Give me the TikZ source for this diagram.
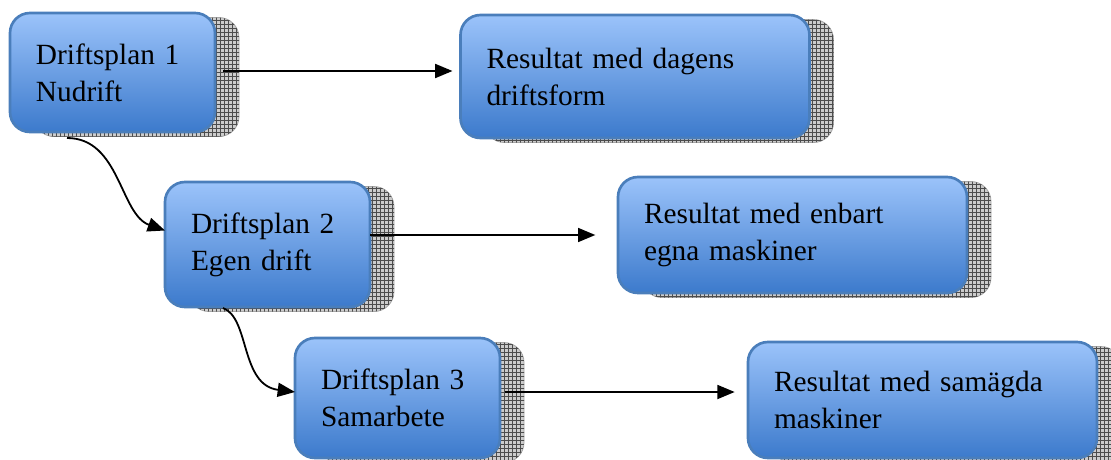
\documentclass[tikz,border=0pt]{standalone}
\usepackage{fontspec}
\setmainfont{Liberation Serif}
\usetikzlibrary{arrows.meta,calc,shadows,patterns}
\definecolor{boxtop}{RGB}{155,195,250}
\definecolor{boxbot}{RGB}{60,122,204}
\definecolor{boxline}{RGB}{74,126,187}
\tikzset{
  box/.style={rounded corners=15pt, draw=boxline, line width=2pt,
    top color=boxtop, bottom color=boxbot, align=left, text=black,
    font=\fontsize{22}{27.75}\selectfont, inner xsep=19.5pt, inner ysep=0pt,
    outer sep=0pt,
    general shadow={shadow xshift=18pt, shadow yshift=-3.4pt, fill=gray!40, draw=gray!70, line width=0.6pt},
    general shadow={shadow xshift=18pt, shadow yshift=-3.4pt, pattern=grid, pattern color=black!70}},
  planbox/.style={box, text width=114.75pt},
  resbox/.style={box, text width=222.75pt},
  arr/.style={line width=1.35pt, -{Triangle[length=13pt,width=10.5pt]}},
}
\begin{document}
\begin{tikzpicture}[x=0.75pt,y=-0.75pt]
\useasboundingbox (0,0) rectangle (1111,460);
\node[planbox, minimum height=89.25pt] (d1) at (112.5,72.5) {Driftsplan 1\\Nudrift};
\node[resbox, minimum height=92.25pt] (r1) at (635,76.5) {Resultat med dagens\\driftsform};
\node[planbox, minimum height=93.75pt] (d2) at (267.5,244.5) {Driftsplan 2\\Egen drift};
\node[resbox, minimum height=87pt] (r2) at (792.5,235) {Resultat med enbart\\egna maskiner};
\node[planbox, minimum height=90pt] (d3) at (397.5,398) {Driftsplan 3\\Samarbete};
\node[resbox, minimum height=87pt] (r3) at (922.5,400) {Resultat med samägda\\maskiner};

\coordinate (s1) at ($(d1.east)+(8,-1.5)$);
\coordinate (s2) at ($(d2.east)+(0,-9.5)$);
\coordinate (s3) at ($(d3.east)+(5,-6)$);
\draw[arr, shorten >=6pt] (s1) -- (s1 -| r1.west);
\draw[arr, shorten >=17pt] (s2) -- (s2 -| r2.west);
\draw[arr, shorten >=10pt] (s3) -- (s3 -| r3.west);

\coordinate (c1) at ($(d1.south west)+(57,6)$);
\coordinate (c2) at ($(d2.south west)+(58,1)$);
\draw[arr] (c1) .. controls ($(c1)+(53,0)$) and ($(d2.west)+(-45,-30)$) .. ($(d2.west)+(0,-14)$);
\draw[arr] (c2) .. controls ($(c2)+(27,10)$) and ($(d3.west)+(-55,-13)$) .. ($(d3.west)+(0,-6)$);
\end{tikzpicture}
\end{document}
